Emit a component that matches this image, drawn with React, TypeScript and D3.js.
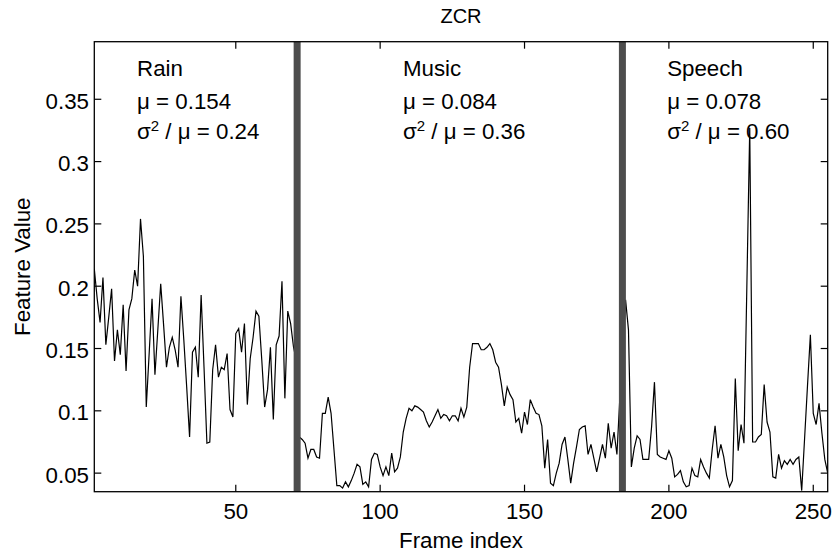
import React from 'react';
import * as d3 from 'd3';

// ZCR per frame (frames 1..255)
const rainValues = [
  0.214, 0.190, 0.171, 0.207, 0.153, 0.175, 0.198, 0.140, 0.165, 0.145,
  0.185, 0.132, 0.181, 0.190, 0.213, 0.200, 0.254, 0.224, 0.103, 0.146,
  0.190, 0.129, 0.165, 0.202, 0.169, 0.135, 0.151, 0.159, 0.149, 0.135,
  0.192, 0.157, 0.119, 0.079, 0.147, 0.151, 0.127, 0.193, 0.135, 0.074,
  0.075, 0.133, 0.153, 0.127, 0.135, 0.133, 0.146, 0.101, 0.095, 0.162,
  0.166, 0.147, 0.170, 0.105, 0.142, 0.159, 0.180, 0.176, 0.141, 0.103,
  0.117, 0.151, 0.093, 0.153, 0.160, 0.204, 0.110, 0.180, 0.170, 0.151,
  0.140,
];
const musicValues = [
  0.079, 0.077, 0.074, 0.062, 0.069, 0.069, 0.063, 0.062, 0.098, 0.098,
  0.111, 0.098, 0.069, 0.040, 0.040, 0.038, 0.043, 0.039, 0.044, 0.050,
  0.057, 0.055, 0.041, 0.043, 0.039, 0.061, 0.066, 0.065, 0.055, 0.048,
  0.055, 0.048, 0.066, 0.051, 0.054, 0.063, 0.083, 0.094, 0.102, 0.100,
  0.104, 0.103, 0.101, 0.099, 0.092, 0.087, 0.091, 0.096, 0.101, 0.094,
  0.097, 0.096, 0.092, 0.096, 0.096, 0.092, 0.102, 0.095, 0.103, 0.135,
  0.154, 0.154, 0.154, 0.149, 0.149, 0.151, 0.154, 0.149, 0.139, 0.135,
  0.121, 0.104, 0.119, 0.113, 0.109, 0.091, 0.094, 0.082, 0.099, 0.089,
  0.109, 0.103, 0.098, 0.097, 0.088, 0.054, 0.077, 0.042, 0.040, 0.050,
  0.058, 0.073, 0.079, 0.061, 0.042, 0.058, 0.071, 0.085, 0.087, 0.088,
  0.065, 0.073, 0.062, 0.051, 0.062, 0.073, 0.062, 0.090, 0.070, 0.083,
  0.065, 0.110,
];
const speechValues = [
  0.150, 0.189, 0.165, 0.055, 0.070, 0.080, 0.077, 0.061, 0.061, 0.061,
  0.087, 0.123, 0.065, 0.063, 0.062, 0.061, 0.068, 0.062, 0.047, 0.049,
  0.052, 0.043, 0.039, 0.040, 0.054, 0.048, 0.047, 0.061, 0.055, 0.050,
  0.046, 0.069, 0.088, 0.062, 0.073, 0.063, 0.048, 0.039, 0.044, 0.126,
  0.068, 0.089, 0.074, 0.200, 0.327, 0.075, 0.075, 0.079, 0.081, 0.121,
  0.091, 0.083, 0.047, 0.046, 0.065, 0.054, 0.060, 0.057, 0.061, 0.057,
  0.061, 0.063, 0.036, 0.078, 0.120, 0.161, 0.098, 0.089, 0.106, 0.082,
  0.061, 0.050,
];
const zcrValues = [...rainValues, ...musicValues, ...speechValues];

const segmentBoundaries = [71.25, 183.9];
const segmentNames = ['Rain', 'Music', 'Speech'];
const segmentMeans = ['0.154', '0.084', '0.078'];
const segmentRatios = ['0.24', '0.36', '0.60'];
const segmentLabelFrames = [15.8, 107.9, 199.4];

const xTicks = [50, 100, 150, 200, 250];
const yTicks = [0.05, 0.1, 0.15, 0.2, 0.25, 0.3, 0.35];
const xDomain = [1, 255];
const yDomain = [0.0351, 0.3962];

const FONT = "'Liberation Sans', Arial, Helvetica, sans-serif";

export default function App() {
  const W = 833, H = 552;
  const L = 94.3, R = 827.7, T = 41.7, B = 491.7;
  const x = d3.scaleLinear().domain(xDomain).range([L, R]);
  const y = d3.scaleLinear().domain(yDomain).range([B, T]);
  const line = d3.line<number>().x((_, i) => x(i + 1)).y((d) => y(d));
  const tickLen = 7;
  const fs = 22.3;

  return (
    <svg width={W} height={H} style={{ position: 'absolute', left: 0, top: 0, background: '#fff' }}
      fontFamily={FONT}>
      <rect x={0} y={0} width={W} height={H} fill="#fff" />
      <defs>
        <clipPath id="plotclip">
          <rect x={L} y={T} width={R - L} height={B - T} />
        </clipPath>
      </defs>
      {/* annotations */}
      {segmentNames.map((name, i) => {
        const tx = x(segmentLabelFrames[i]);
        return (
          <g key={name} fontSize={fs} fill="#000">
            <text x={tx} y={T + 34.3}>{name}</text>
            <text x={tx} y={T + 66.8}>{'\u03bc = ' + segmentMeans[i]}</text>
            <text x={tx} y={T + 97.3}>
              <tspan>{'\u03c3'}</tspan>
              <tspan dy={-8} fontSize={15}>2</tspan>
              <tspan dy={8}>{' / \u03bc = ' + segmentRatios[i]}</tspan>
            </text>
          </g>
        );
      })}
      <g clipPath="url(#plotclip)">
        <path d={line(zcrValues) || ''} fill="none" stroke="#000" strokeWidth={1.2} strokeLinejoin="miter" />
        {segmentBoundaries.map((b) => (
          <line key={b} x1={x(b)} x2={x(b)} y1={T} y2={B} stroke="#4d4d4d" strokeWidth={7} />
        ))}
      </g>
      {/* box */}
      <rect x={L} y={T} width={R - L} height={B - T} fill="none" stroke="#000" strokeWidth={1.3} />
      {/* ticks */}
      {xTicks.map((t) => (
        <g key={'x' + t}>
          <line x1={x(t)} x2={x(t)} y1={B} y2={B - tickLen} stroke="#000" strokeWidth={1.2} />
          <line x1={x(t)} x2={x(t)} y1={T} y2={T + tickLen} stroke="#000" strokeWidth={1.2} />
          <text x={x(t)} y={519} fontSize={fs} textAnchor="middle">{t}</text>
        </g>
      ))}
      {yTicks.map((t) => (
        <g key={'y' + t}>
          <line x1={L} x2={L + tickLen} y1={y(t)} y2={y(t)} stroke="#000" strokeWidth={1.2} />
          <line x1={R} x2={R - tickLen} y1={y(t)} y2={y(t)} stroke="#000" strokeWidth={1.2} />
          <text x={89} y={y(t) + 9.5} fontSize={fs} textAnchor="end">{d3.format('~g')(t)}</text>
        </g>
      ))}
      <text x={(L + R) / 2} y={23} fontSize={20} textAnchor="middle">ZCR</text>
      <text x={(L + R) / 2} y={548} fontSize={fs} textAnchor="middle">Frame index</text>
      <text transform={`translate(30,${(T + B) / 2}) rotate(-90)`} fontSize={fs} textAnchor="middle">Feature Value</text>
    </svg>
  );
}
